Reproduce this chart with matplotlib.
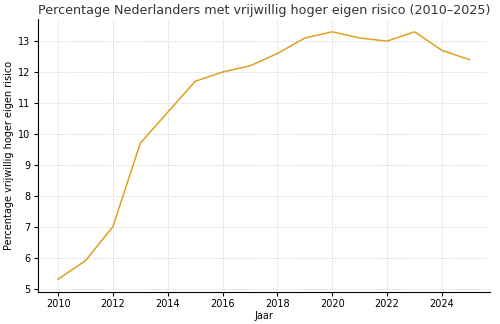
import matplotlib
matplotlib.use("Agg")
import matplotlib.pyplot as plt

# data
jaren = [2010, 2011, 2012, 2013, 2014, 2015, 2016, 2017,
         2018, 2019, 2020, 2021, 2022, 2023, 2024, 2025]
percentage = [5.3, 5.9, 7.0, 9.7, 10.7, 11.7, 12.0, 12.2,
              12.6, 13.1, 13.3, 13.1, 13.0, 13.3, 12.7, 12.4]

fig, ax = plt.subplots(figsize=(5, 3.24), dpi=100)
ax.plot(jaren, percentage, color='#E0A020', linewidth=1.1)

ax.set_title('Percentage Nederlanders met vrijwillig hoger eigen risico (2010–2025)',
             fontsize=9.2, color='#333333', pad=4)
ax.set_xlabel('Jaar', fontsize=7, labelpad=2)
ax.set_ylabel('Percentage vrijwillig hoger eigen risico', fontsize=7, labelpad=3)
ax.set_xticks(range(2010, 2026, 2))
ax.tick_params(labelsize=7, length=3, pad=2)
ax.grid(True, linestyle=':', color='#cccccc', linewidth=0.7)
ax.spines['top'].set_visible(False)
ax.spines['right'].set_visible(False)

fig.subplots_adjust(left=0.075, right=0.98, top=0.94, bottom=0.10)
fig.savefig('out.png', dpi=100)
